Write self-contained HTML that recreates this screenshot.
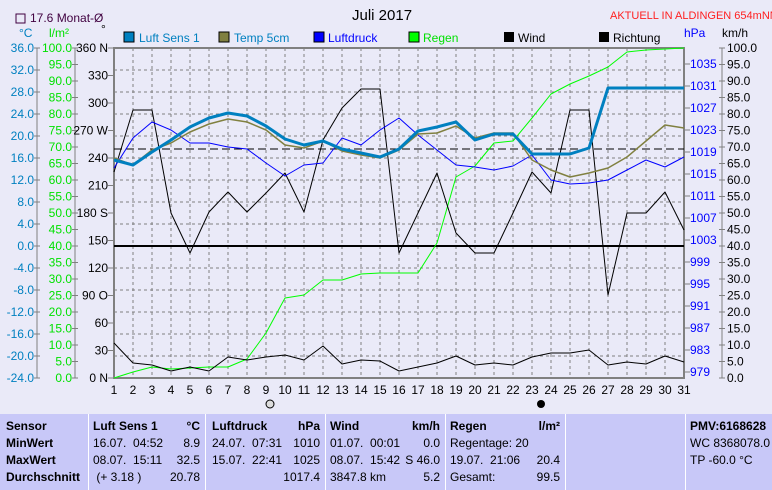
<!DOCTYPE html><html><head><style>body{margin:0;background:#eaeaf8;font-family:"Liberation Sans",sans-serif}
.t{position:absolute;font-size:12px}</style></head><body>
<div style="position:relative;width:772px;height:490px;overflow:hidden;background:#eaeaf8">
<svg width="772" height="490" style="position:absolute;left:0;top:0" font-family="Liberation Sans, sans-serif" font-size="12">
<rect x="16" y="14" width="9" height="9" fill="none" stroke="#400040"/>
<text x="30" y="22" fill="#400040" font-size="12">17.6 Monat-Ø</text>
<text x="352" y="20" font-size="15">Juli 2017</text>
<text x="610" y="19" fill="#ff2020" font-size="11">AKTUELL IN ALDINGEN 654mNN</text>
<text x="19" y="37" fill="#0080c0">°C</text><text x="49" y="37" fill="#00e000">l/m²</text><text x="101" y="33">°</text>
<rect x="124" y="32" width="10" height="10" fill="#0080c0" stroke="#000"/><text x="139" y="42" fill="#0080c0">Luft Sens 1</text>
<rect x="219" y="32" width="10" height="10" fill="#808040" stroke="#000"/><text x="234" y="42" fill="#0080c0">Temp 5cm</text>
<rect x="314" y="32" width="10" height="10" fill="#0000ff" stroke="#000"/><text x="328" y="42" fill="#0000ff">Luftdruck</text>
<rect x="409" y="32" width="10" height="10" fill="#00ff00" stroke="#000"/><text x="423" y="42" fill="#00e000">Regen</text>
<rect x="504" y="32" width="10" height="10" fill="#000"/><text x="518" y="42">Wind</text>
<rect x="599" y="32" width="10" height="10" fill="#000"/><text x="613" y="42">Richtung</text>
<text x="684" y="37" fill="#0000ff">hPa</text><text x="722" y="37">km/h</text>
<g id="grid" stroke="#808080" stroke-dasharray="3,3" stroke-width="1"></g>
<rect x="114" y="48" width="570" height="330" fill="none" stroke="#808080" stroke-width="2"/>
<g id="ax"></g>
<line x1="114" y1="149" x2="684" y2="149" stroke="#000" stroke-dasharray="8,4"/>
<line x1="114" y1="246" x2="684" y2="246" stroke="#000" stroke-width="2"/>
<g fill="none" stroke-linejoin="round">
<polyline stroke="#00ff00" points="114,378 133,372 152,367 171,369 190,368 209,367 228,367 247,359 266,333 285,298 304,295 323,280 342,280 361,274 380,273 399,273 418,273 437,243 456,177 475,166 494,143 513,141 532,118 551,94 570,84 589,76 608,67 627,52 646,50 665,49 684,48"/>
<polyline stroke="#000" points="114,172 133,110 152,110 171,213 190,253 209,212 228,192 247,212 266,193 285,173 304,212 323,140 342,108 361,89 380,89 399,253 418,213 437,173 456,233 475,253 494,253 513,213 532,172 551,193 570,110 589,110 608,295 627,213 646,213 665,192 684,230"/>
<polyline stroke="#000" points="114,343 133,363 152,365 171,371 190,367 209,371 228,357 247,360 266,357 285,355 304,360 323,346 342,364 361,360 380,361 399,371 418,367 437,363 456,356 475,365 494,363 513,365 532,357 551,353 570,353 589,350 608,365 627,362 646,364 665,356 684,362"/>
<polyline stroke="#0000ff" points="114,168 133,138 152,122 171,130 190,143 209,143 228,147 247,149 266,163 285,176 304,165 323,163 342,138 361,145 380,130 399,118 418,135 437,150 456,165 475,167 494,170 513,166 532,155 551,180 570,184 589,183 608,180 627,170 646,160 665,167 684,157"/>
<polyline stroke="#808040" stroke-width="1.5" points="114,158 133,165 152,150 171,143 190,132 209,124 228,119 247,122 266,130 285,145 304,148 323,141 342,151 361,155 380,158 399,150 418,134 437,133 456,126 475,138 494,133 513,133 532,160 551,170 570,177 589,173 608,168 627,157 646,141 665,125 684,128"/>
<polyline stroke="#0080c0" stroke-width="3" points="114,160 133,165 152,152 171,140 190,127 209,118 228,113 247,116 266,126 285,139 304,145 323,141 342,149 361,153 380,157 399,149 418,131 437,127 456,122 475,140 494,134 513,134 532,154 551,154 570,154 589,148 608,88 627,88 646,88 665,88 684,88"/>
</g>
<circle cx="270" cy="404" r="4" fill="#ddd" stroke="#000"/><circle cx="541" cy="404" r="4" fill="#000"/>
</svg>
<div style="position:absolute;left:0;top:414px;width:772px;height:76px;background:#c8c8f8;font-size:12px;line-height:17px">
<div class="t" style="left:6px;top:4px;font-weight:bold">Sensor<br>MinWert<br>MaxWert<br>Durchschnitt</div>
<div class="t" style="left:93px;top:4px"><b>Luft Sens 1</b><br>16.07.&nbsp; 04:52<br>08.07.&nbsp; 15:11<br>&nbsp;(+ 3.18 )</div>
<div class="t" style="left:150px;top:4px;width:50px;text-align:right"><b>°C</b><br>8.9<br>32.5<br>20.78</div>
<div class="t" style="left:212px;top:4px"><b>Luftdruck</b><br>24.07.&nbsp; 07:31<br>15.07.&nbsp; 22:41</div>
<div class="t" style="left:270px;top:4px;width:50px;text-align:right"><b>hPa</b><br>1010<br>1025<br>1017.4</div>
<div class="t" style="left:330px;top:4px"><b>Wind</b><br>01.07.&nbsp; 00:01<br>08.07.&nbsp; 15:42<br>3847.8 km</div>
<div class="t" style="left:390px;top:4px;width:50px;text-align:right"><b>km/h</b><br>0.0<br>S 46.0<br>5.2</div>
<div class="t" style="left:450px;top:4px"><b>Regen</b><br>Regentage: 20<br>19.07.&nbsp; 21:06<br>Gesamt:</div>
<div class="t" style="left:510px;top:4px;width:50px;text-align:right"><b>l/m²</b><br><br>20.4<br>99.5</div>
<div class="t" style="left:690px;top:4px;white-space:nowrap"><b>PMV:6168628</b><br>WC 8368078.0 °<br>TP -60.0 °C</div>
<div style="position:absolute;left:88px;top:0;width:1px;height:76px;background:#fff"></div>
<div style="position:absolute;left:205px;top:0;width:1px;height:76px;background:#fff"></div>
<div style="position:absolute;left:325px;top:0;width:1px;height:76px;background:#fff"></div>
<div style="position:absolute;left:445px;top:0;width:1px;height:76px;background:#fff"></div>
<div style="position:absolute;left:565px;top:0;width:1px;height:76px;background:#fff"></div>
<div style="position:absolute;left:685px;top:0;width:1px;height:76px;background:#fff"></div>
</div>
</div>
<script>
var ns="http://www.w3.org/2000/svg",g=document.getElementById('grid'),a=document.getElementById('ax');
function L(p,x1,y1,x2,y2,c){var l=document.createElementNS(ns,'line');l.setAttribute('x1',x1);l.setAttribute('y1',y1);l.setAttribute('x2',x2);l.setAttribute('y2',y2);if(c)l.setAttribute('stroke',c);p.appendChild(l);}
function T(x,y,s,c,anc){var t=document.createElementNS(ns,'text');t.setAttribute('x',x);t.setAttribute('y',y);t.setAttribute('fill',c||'#000');t.setAttribute('text-anchor',anc||'end');t.textContent=s;a.appendChild(t);}
for(var i=1;i<30;i++)L(g,114+i*19,48,114+i*19,378);
for(var i=1;i<15;i++)L(g,114,48+i*22,684,48+i*22);
L(a,37,48,37,378,'#808080');L(a,75,48,75,378,'#808080');L(a,722,48,722,378,'#808080');
for(var i=0;i<=15;i++){var y=48+i*22;T(34,y+4,(36-4*i).toFixed(1),'#0080c0');L(a,34,y,40,y,'#808080');}
for(var i=0;i<=20;i++){var y=48+i*16.5;T(72,y+4,(100-5*i).toFixed(1),'#00e000');L(a,72,y,78,y,'#808080');
T(727,y+4,(100-5*i).toFixed(1),'#000','start');L(a,719,y,725,y,'#808080');}
var d={0:'360 N',3:'270 W',6:'180 S',9:'90 O',12:'0 N'};
for(var i=0;i<=12;i++){var y=48+i*27.5;T(108,y+4,d[i]||String(360-30*i));L(a,108,y,114,y,'#808080');}
for(var i=0;i<=14;i++){var y=64+i*22;T(690,y+4,String(1035-4*i),'#0000ff','start');L(a,684,y,690,y,'#808080');}
for(var i=1;i<=31;i++)T(114+(i-1)*19,394,String(i),'#000','middle');
</script>
</body></html>
